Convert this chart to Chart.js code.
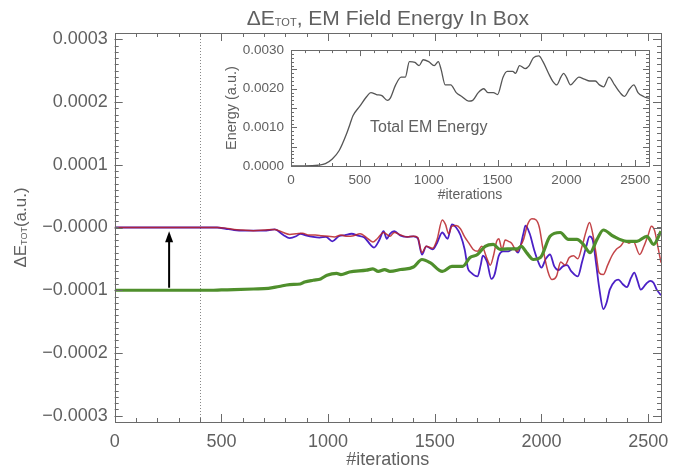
<!DOCTYPE html>
<html><head><meta charset="utf-8">
<script src="https://cdn.jsdelivr.net/npm/chart.js@4.4.1/dist/chart.umd.min.js"></script>
<style>
html,body{margin:0;padding:0;background:#fff;}
#wrap{position:relative;width:681px;height:469px;overflow:hidden;}
#main{position:absolute;left:0;top:0;}
#inset{position:absolute;left:200px;top:35px;}
</style></head><body>
<div id="wrap"><canvas id="main" width="681" height="469"></canvas><canvas id="inset" width="460" height="175"></canvas></div>
<script>
// ---------- main plot data (ΔE in units of 1e-4 a.u.) ----------
const xTicks = [0, 500, 1000, 1500, 2000, 2500];
const xTickLabels = ["0", "500", "1000", "1500", "2000", "2500"];
const yTicks = [-3, -2, -1, 0, 1, 2, 3];
const yTickLabels = ["\u22120.0003", "\u22120.0002", "\u22120.0001", "\u22120.0000", "0.0001", "0.0002", "0.0003"];

const redIter = [0,480,520,560,600,650,700,750,790,820,850,880,910,940,970,1000,1030,1060,1090,1120,1150,1180,1210,1230,1260,1290,1310,1340,1370,1400,1420,1440,1460,1490,1510,1535,1550,1565,1580,1600,1620,1640,1660,1680,1700,1720,1745,1760,1775,1790,1800,1815,1830,1845,1860,1885,1900,1915,1935,1955,1975,1990,2005,2030,2050,2070,2090,2110,2130,2150,2170,2190,2210,2225,2240,2255,2270,2290,2310,2330,2350,2370,2390,2410,2430,2460,2480,2500,2515,2530,2545,2560];
const redDE = [0,0,-0.01,-0.03,-0.04,-0.05,-0.04,-0.03,-0.08,-0.11,-0.10,-0.09,-0.12,-0.12,-0.13,-0.14,-0.15,-0.12,-0.14,-0.13,-0.10,-0.16,-0.23,-0.18,-0.08,-0.14,-0.08,-0.12,-0.15,-0.14,-0.16,-0.40,-0.30,-0.33,-0.20,0.12,0.05,-0.10,0.02,0.03,-0.02,-0.15,-0.25,-0.35,-0.38,-0.30,-0.50,-0.60,-0.45,-0.22,-0.18,-0.35,-0.20,-0.22,-0.25,-0.38,-0.30,-0.20,0.05,0.14,0.12,0.00,-0.30,-0.70,-0.83,-0.78,-0.55,-0.60,-0.48,-0.45,-0.50,-0.30,-0.05,0.08,-0.10,-0.40,-0.72,-0.75,-0.60,-0.45,-0.35,-0.30,-0.22,-0.25,-0.22,-0.43,-0.30,-0.12,0.02,-0.05,-0.30,-0.56];

const blueIter = [0,480,520,560,600,650,700,750,790,820,850,870,900,930,960,990,1020,1050,1080,1110,1140,1170,1200,1215,1240,1260,1275,1290,1310,1340,1370,1400,1420,1440,1460,1490,1510,1535,1560,1580,1600,1620,1640,1655,1670,1700,1715,1725,1745,1765,1780,1800,1820,1845,1870,1890,1915,1925,1945,1965,1985,2000,2020,2040,2060,2080,2100,2120,2140,2170,2190,2210,2225,2240,2255,2270,2290,2305,2320,2345,2360,2380,2400,2420,2435,2450,2465,2490,2510,2525,2540,2560];
const blueDE = [0,0,-0.02,-0.04,-0.05,-0.05,-0.05,-0.03,-0.12,-0.17,-0.14,-0.10,-0.13,-0.15,-0.16,-0.15,-0.22,-0.14,-0.12,-0.10,-0.13,-0.16,-0.28,-0.32,-0.20,-0.06,-0.18,-0.10,-0.06,-0.13,-0.15,-0.14,-0.17,-0.43,-0.30,-0.35,-0.25,-0.08,-0.18,0.05,0.00,-0.12,-0.35,-0.65,-0.72,-0.78,-0.60,-0.45,-0.55,-0.82,-0.75,-0.45,-0.38,-0.38,-0.33,-0.40,-0.10,0.03,-0.10,-0.35,-0.55,-0.64,-0.50,-0.43,-0.62,-0.68,-0.62,-0.60,-0.70,-0.78,-0.55,-0.30,-0.14,-0.20,-0.55,-0.95,-1.30,-1.20,-0.99,-0.85,-0.83,-0.90,-0.95,-0.80,-0.72,-0.85,-0.99,-0.90,-0.85,-0.88,-0.99,-1.08];

const greenIter = [0,450,500,560,650,720,770,820,870,890,930,965,995,1040,1060,1100,1180,1210,1235,1265,1290,1340,1400,1440,1478,1535,1580,1630,1665,1700,1736,1774,1806,1840,1885,1905,1930,1962,1995,2040,2088,2126,2166,2196,2228,2260,2290,2337,2400,2447,2494,2525,2560];
const greenDE = [-1.0,-1.0,-0.995,-0.99,-0.98,-0.97,-0.94,-0.91,-0.90,-0.87,-0.84,-0.82,-0.76,-0.73,-0.75,-0.71,-0.68,-0.66,-0.70,-0.67,-0.70,-0.67,-0.63,-0.51,-0.56,-0.70,-0.62,-0.62,-0.48,-0.43,-0.30,-0.27,-0.35,-0.34,-0.34,-0.30,-0.40,-0.51,-0.48,-0.14,-0.08,-0.19,-0.19,-0.27,-0.40,-0.19,-0.04,-0.14,-0.22,-0.22,-0.14,-0.27,-0.06];

const markerIter = 400;              // dotted vertical line
const arrowIter = 255;               // arrow position
const arrowFrom = -0.96, arrowTo = -0.06;

// ---------- inset data (energy in units of 1e-3 a.u.) ----------
const insetXTicks = [0, 500, 1000, 1500, 2000, 2500];
const insetXTickLabels = ["0", "500", "1000", "1500", "2000", "2500"];
const insetYTicks = [0, 1, 2, 3];
const insetYTickLabels = ["0.0000", "0.0010", "0.0020", "0.0030"];
const energyIter = [0,100,200,250,300,350,400,430,450,500,550,580,620,660,700,720,760,800,830,860,900,930,960,1000,1040,1070,1090,1120,1160,1200,1240,1290,1320,1360,1400,1430,1470,1500,1540,1570,1610,1630,1660,1700,1730,1760,1800,1830,1870,1900,1930,1960,1980,2000,2030,2060,2090,2130,2170,2210,2240,2270,2310,2350,2390,2420,2460,2490,2520,2560,2600];
const energyVal = [0,0,0.02,0.06,0.18,0.40,0.80,1.10,1.30,1.55,1.80,1.90,1.85,1.82,1.70,1.75,2.10,2.30,2.30,2.70,2.68,2.60,2.75,2.70,2.60,2.70,2.50,2.10,2.10,1.90,1.80,1.68,1.70,1.90,2.00,1.90,1.90,1.85,2.30,2.45,2.45,2.40,2.60,2.52,2.60,2.80,2.85,2.70,2.40,2.20,2.10,2.30,2.40,2.30,2.10,2.20,2.30,2.25,2.20,2.20,2.10,2.05,2.30,2.10,1.90,1.80,2.00,2.10,1.90,1.80,1.75];
const insetNote = {iter: 1000, val: 1.0, text: "Total EM Energy"};

// ---------- styling ----------
const FONT = "'Liberation Sans', Arial, sans-serif";
const TXT = '#606060';
const AXC = '#6a6a6a';
const pts = (xs, ys) => xs.map((v, i) => ({x: v, y: ys[i]}));

function drawFrameTicks(ctx, a, xs, ys, xMaj, xMin, yMaj, yMin, majLen, minLen) {
  ctx.save();
  ctx.strokeStyle = AXC; ctx.lineWidth = 1;
  ctx.strokeRect(Math.round(a.left) + 0.5, Math.round(a.top) + 0.5, Math.round(a.right - a.left), Math.round(a.bottom - a.top));
  ctx.beginPath();
  const tx = (v, len) => {
    const p = Math.round(xs.getPixelForValue(v)) + 0.5;
    ctx.moveTo(p, a.bottom); ctx.lineTo(p, a.bottom - len);
    ctx.moveTo(p, a.top); ctx.lineTo(p, a.top + len);
  };
  const ty = (v, len) => {
    const p = Math.round(ys.getPixelForValue(v)) + 0.5;
    ctx.moveTo(a.left, p); ctx.lineTo(a.left + len, p);
    ctx.moveTo(a.right, p); ctx.lineTo(a.right - len, p);
  };
  for (let v = xs.min; v <= xs.max + 1e-9; v += xMin) if (v > xs.min && v < xs.max) tx(v, minLen);
  for (let v = ys.min; v <= ys.max + 1e-9; v += yMin) if (v > ys.min && v < ys.max) ty(v, minLen);
  xMaj.forEach(v => tx(v, majLen));
  yMaj.forEach(v => ty(v, majLen));
  ctx.stroke();
  ctx.restore();
}

function drawSubText(ctx, parts, x, y, align) {
  // parts: [text, size, dy]
  let w = 0;
  parts.forEach(p => { ctx.font = p[1] + 'px ' + FONT; w += ctx.measureText(p[0]).width; });
  let cx = align === 'center' ? x - w / 2 : x;
  parts.forEach(p => {
    ctx.font = p[1] + 'px ' + FONT;
    ctx.fillText(p[0], cx, y + p[2]);
    cx += ctx.measureText(p[0]).width;
  });
}

const mainDeco = {
  id: 'mainDeco',
  beforeDatasetsDraw(chart) {
    const {ctx, chartArea: a, scales: {x}} = chart;
    ctx.save();
    ctx.strokeStyle = '#888'; ctx.lineWidth = 1; ctx.setLineDash([1, 2]);
    const p = Math.round(x.getPixelForValue(markerIter)) + 0.5;
    ctx.beginPath(); ctx.moveTo(p, a.top); ctx.lineTo(p, a.bottom); ctx.stroke();
    ctx.restore();
  },
  afterDatasetsDraw(chart) {
    const {ctx, chartArea: a, scales: {x, y}} = chart;
    drawFrameTicks(ctx, a, x, y, xTicks, 100, yTicks, 0.1, 8, 4);
    // arrow
    ctx.save();
    const ax = x.getPixelForValue(arrowIter);
    const y0 = y.getPixelForValue(arrowFrom), y1 = y.getPixelForValue(arrowTo);
    ctx.strokeStyle = '#000'; ctx.fillStyle = '#000'; ctx.lineWidth = 2;
    ctx.beginPath(); ctx.moveTo(ax, y0); ctx.lineTo(ax, y1 + 8); ctx.stroke();
    ctx.beginPath(); ctx.moveTo(ax, y1); ctx.lineTo(ax - 4, y1 + 11); ctx.lineTo(ax + 4, y1 + 11); ctx.closePath(); ctx.fill();
    ctx.restore();
    // titles
    ctx.save();
    ctx.fillStyle = TXT; ctx.textBaseline = 'alphabetic'; ctx.textAlign = 'left';
    drawSubText(ctx, [["\u0394E", 21, 0], ["TOT", 11, 1], [", EM Field Energy In Box", 21, 0]], (a.left + a.right) / 2, 25, 'center');
    ctx.font = '18px ' + FONT; ctx.textAlign = 'center'; ctx.textBaseline = 'middle';
    ctx.fillText("#iterations", (a.left + a.right) / 2, 460);
    ctx.restore();
    ctx.save();
    ctx.fillStyle = TXT; ctx.textAlign = 'left'; ctx.textBaseline = 'middle';
    ctx.translate(21, (a.top + a.bottom) / 2);
    ctx.rotate(-Math.PI / 2);
    drawSubText(ctx, [["\u0394E", 17, 0], ["TOT", 9, 4], ["(a.u.)", 17, 0]], 0, 0, 'center');
    ctx.restore();
  }
};

new Chart(document.getElementById('main'), {
  type: 'line',
  data: {
    datasets: [
      {data: pts(greenIter, greenDE), borderColor: '#4f8f2c', borderWidth: 3.2},
      {data: pts(redIter, redDE), borderColor: 'rgba(185,35,40,0.85)', borderWidth: 1.5},
      {data: pts(blueIter, blueDE), borderColor: '#4b20c6', borderWidth: 1.8}
    ].map(d => Object.assign(d, {pointRadius: 0, fill: false, cubicInterpolationMode: 'monotone'}))
  },
  options: {
    responsive: false, animation: false, devicePixelRatio: 1,
    layout: {padding: {top: 33, right: 20, left: 0, bottom: 0}},
    plugins: {legend: {display: false}, tooltip: {enabled: false}, title: {display: false}},
    scales: {
      x: {
        type: 'linear', min: 0, max: 2560,
        afterBuildTicks: s => { s.ticks = xTicks.map(v => ({value: v})); },
        ticks: {callback: (v, i) => xTickLabels[i], font: {family: FONT, size: 18}, color: TXT, padding: 9, maxRotation: 0, autoSkip: false},
        grid: {display: false, drawTicks: false}, border: {display: false},
        afterFit: s => { s.height = 47; }
      },
      y: {
        type: 'linear', min: -3.1, max: 3.1,
        afterBuildTicks: s => { s.ticks = yTicks.map(v => ({value: v})); },
        ticks: {callback: (v, i) => yTickLabels[i], font: {family: FONT, size: 18}, color: TXT, padding: 7, autoSkip: false},
        grid: {display: false, drawTicks: false}, border: {display: false},
        afterFit: s => { s.width = 114.7; }
      }
    }
  },
  plugins: [mainDeco]
});

const insetDeco = {
  id: 'insetDeco',
  afterDatasetsDraw(chart) {
    const {ctx, chartArea: a, scales: {x, y}} = chart;
    drawFrameTicks(ctx, a, x, y, insetXTicks, 100, [0, 0.5, 1, 1.5, 2, 2.5, 3], 0.1, 6, 3);
    ctx.save();
    ctx.fillStyle = TXT; ctx.textAlign = 'center'; ctx.textBaseline = 'middle';
    ctx.font = '16px ' + FONT;
    ctx.fillText(insetNote.text, x.getPixelForValue(insetNote.iter), y.getPixelForValue(insetNote.val));
    ctx.font = '14px ' + FONT;
    ctx.fillText("#iterations", (a.left + a.right) / 2, 160);
    ctx.translate(32, (a.top + a.bottom) / 2);
    ctx.rotate(-Math.PI / 2);
    ctx.font = '14.5px ' + FONT;
    ctx.fillText("Energy (a.u.)", 0, 0);
    ctx.restore();
  }
};

new Chart(document.getElementById('inset'), {
  type: 'line',
  data: {
    datasets: [{data: pts(energyIter, energyVal), borderColor: '#555', borderWidth: 1.3, pointRadius: 0, fill: false, cubicInterpolationMode: 'monotone'}]
  },
  options: {
    responsive: false, animation: false, devicePixelRatio: 1,
    layout: {padding: {top: 10, right: 11, left: 0, bottom: 0}},
    plugins: {legend: {display: false}, tooltip: {enabled: false}},
    scales: {
      x: {
        type: 'linear', min: 0, max: 2600,
        afterBuildTicks: s => { s.ticks = insetXTicks.map(v => ({value: v})); },
        ticks: {callback: (v, i) => insetXTickLabels[i], font: {family: FONT, size: 13.5}, color: TXT, padding: 6, maxRotation: 0, autoSkip: false},
        grid: {display: false, drawTicks: false}, border: {display: false},
        afterFit: s => { s.height = 44; }
      },
      y: {
        type: 'linear', min: 0, max: 3,
        afterBuildTicks: s => { s.ticks = insetYTicks.map(v => ({value: v})); },
        ticks: {callback: (v, i) => insetYTickLabels[i], font: {family: FONT, size: 13.5}, color: TXT, padding: 7, autoSkip: false},
        grid: {display: false, drawTicks: false}, border: {display: false},
        afterFit: s => { s.width = 91; }
      }
    }
  },
  plugins: [insetDeco]
});
</script>
</body></html>
